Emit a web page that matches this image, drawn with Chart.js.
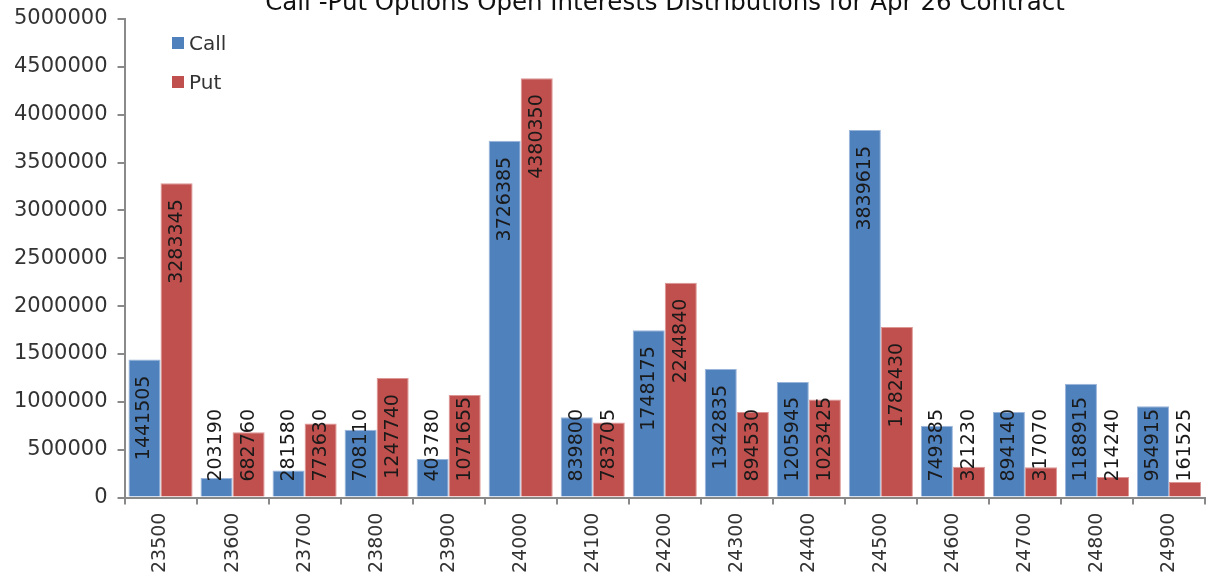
<!DOCTYPE html>
<html>
<head>
<meta charset="utf-8">
<script src="https://cdn.jsdelivr.net/npm/chart.js@4"></script>
<style>
  html, body { margin:0; padding:0; background:#fff; overflow:hidden; }
  #wrap { position:relative; width:1210px; height:581px; font-family:"DejaVu Sans", sans-serif; }
  #title { position:absolute; left:125px; width:1080px; top:-10px; line-height:24px; text-align:center; font-size:24.5px; color:#111; white-space:nowrap; }
  .legend { position:absolute; left:172px; font-size:20px; color:#333; display:flex; align-items:center; }
  .legend span.box { display:inline-block; width:12px; height:12px; margin-right:5px; }
</style>
</head>
<body>
<div id="wrap">
  <canvas id="oi-chart" width="1210" height="581"></canvas>
  <div id="title">Call -Put Options Open Interests Distributions for Apr 26 Contract</div>
  <div class="legend" style="top:31px"><span class="box" style="background:#4f81bd"></span>Call</div>
  <div class="legend" style="top:70px"><span class="box" style="background:#c0504d"></span>Put</div>
</div>
<script>
const strikes = ['23500','23600','23700','23800','23900','24000','24100','24200','24300','24400','24500','24600','24700','24800','24900'];
const callOI = [1441505, 203190, 281580, 708110, 403780, 3726385, 839800, 1748175, 1342835, 1205945, 3839615, 749385, 894140, 1188915, 954915];
const putOI  = [3283345, 682760, 773630, 1247740, 1071655, 4380350, 783705, 2244840, 894530, 1023425, 1782430, 321230, 317070, 214240, 161525];

// etiquetas verticales dentro del extremo de cada barra
const barLabels = {
  id: 'barLabels',
  afterDatasetsDraw(chart) {
    const ctx = chart.ctx;
    ctx.save();
    ctx.font = '19px "DejaVu Sans", sans-serif';
    ctx.fillStyle = '#1a1a1a';
    ctx.textAlign = 'left';
    ctx.textBaseline = 'middle';
    chart.data.datasets.forEach((ds, i) => {
      chart.getDatasetMeta(i).data.forEach((el, j) => {
        const txt = String(ds.data[j]);
        const w = ctx.measureText(txt).width;
        let start = el.y + 16 + w;
        if (start > el.base - 15) start = el.base - 15;
        ctx.save();
        ctx.translate(el.x, start);
        ctx.rotate(-Math.PI/2);
        ctx.fillText(txt, 0, 0);
        ctx.restore();
      });
    });
    ctx.restore();
  }
};

new Chart(document.getElementById('oi-chart').getContext('2d'), {
  type: 'bar',
  data: {
    labels: strikes,
    datasets: [
      { label: 'Call', data: callOI, backgroundColor: '#4f81bd', borderColor: '#9ab5da', borderWidth: 1 },
      { label: 'Put', data: putOI, backgroundColor: '#c0504d', borderColor: '#dc9694', borderWidth: 1 }
    ]
  },
  options: {
    responsive: false,
    animation: false,
    categoryPercentage: 0.89,
    barPercentage: 1.0,
    layout: { padding: { top: 8, right: 5, bottom: 0, left: 4 } },
    plugins: { legend: { display: false }, title: { display: false }, tooltip: { enabled: false } },
    scales: {
      x: {
        grid: { offset: true, drawOnChartArea: false, tickLength: 7, color: '#898989', lineWidth: 2 },
        border: { color: '#898989', width: 2 },
        ticks: { minRotation: 90, maxRotation: 90, padding: 8, color: '#333', font: { family: 'DejaVu Sans', size: 19 } }
      },
      y: {
        min: 0, max: 5000000,
        grid: { drawOnChartArea: false, tickLength: 7, color: '#898989', lineWidth: 2 },
        border: { color: '#898989', width: 2 },
        ticks: { stepSize: 500000, padding: 10, color: '#333', font: { family: 'DejaVu Sans', size: 21, lineHeight: 0.85 }, callback: v => String(v) }
      }
    }
  },
  plugins: [barLabels]
});
</script>
</body>
</html>
